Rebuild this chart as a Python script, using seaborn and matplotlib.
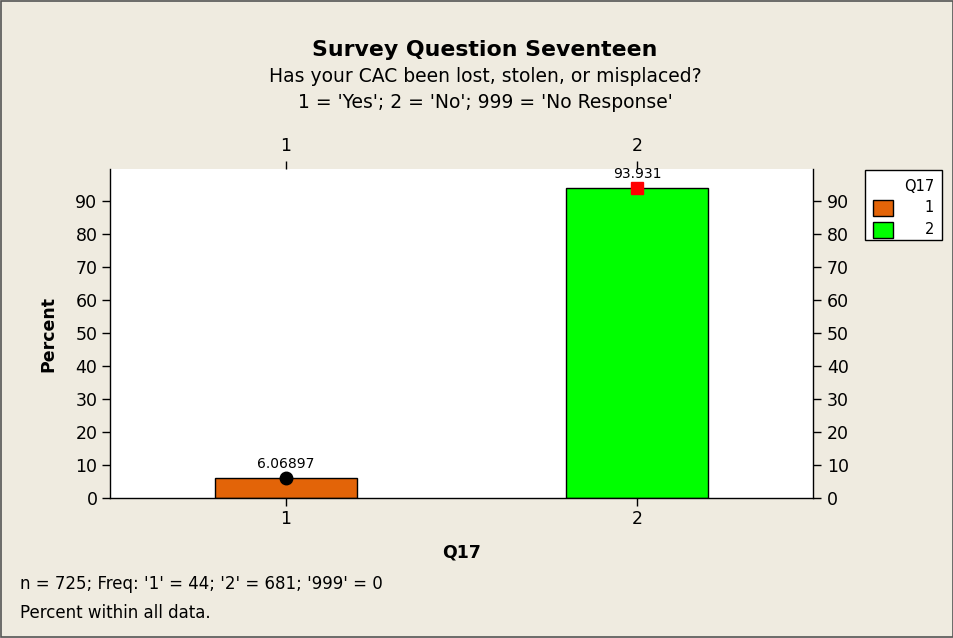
import matplotlib
matplotlib.use("Agg")
import matplotlib.pyplot as plt
import seaborn as sns
import pandas as pd
from matplotlib.patches import Rectangle

categories = ["1", "2"]
percents = [6.06897, 93.931]
bar_colors = ["#E36408", "#00FF00"]
marker_colors = ["black", "red"]
marker_shapes = ["o", "s"]
value_labels = ["6.06897", "93.931"]
yticks = [0, 10, 20, 30, 40, 50, 60, 70, 80, 90]

sns.set_theme(style="white")
plt.rcParams['font.family'] = ['DejaVu Sans']
plt.rcParams['text.color'] = 'black'
plt.rcParams['axes.labelcolor'] = 'black'
plt.rcParams['xtick.color'] = 'black'
plt.rcParams['ytick.color'] = 'black'
BG = "#EFEBE0"
W, H = 954, 638

fig = plt.figure(figsize=(9.54, 6.38), dpi=100, facecolor=BG)
L, R, T, B = 110, 813, 169, 498
ax = fig.add_axes([L/W, 1-B/H, (R-L)/W, (B-T)/H])
ax.set_facecolor("white")

df = pd.DataFrame({"Q17": categories, "Percent": percents})
sns.barplot(data=df, x="Q17", y="Percent", hue="Q17", palette=bar_colors,
            width=0.403, edgecolor="black", linewidth=1.0, dodge=False,
            legend=False, ax=ax, saturation=1)

for i, (v, mc, ms, lab) in enumerate(zip(percents, marker_colors, marker_shapes, value_labels)):
    ax.plot(i, v, marker=ms, color=mc, markersize=9 if ms == "o" else 8,
            linestyle="none", zorder=5, clip_on=False)
    ax.annotate(lab, (i, v), xytext=(0, 5), textcoords="offset points",
                ha="center", va="bottom", fontsize=10, color="black", zorder=6)

ax.set_xlim(-0.5, 1.5)
ax.set_ylim(0, 99.6)
ax.set_yticks(yticks)
ax.set_yticklabels([str(t) for t in yticks])
for name, s in ax.spines.items():
    s.set_visible(name in ("bottom", "left", "right"))
    s.set_color("black")
    s.set_linewidth(1.0)
ax.tick_params(axis="both", direction="out", length=6, width=1, color="black",
               labelsize=12.5, labelcolor="black", bottom=True, left=True, pad=3)
ax.set_xlabel("Q17", fontsize=12.5, fontweight="bold")
ax.set_ylabel("Percent", fontsize=12.5, fontweight="bold")
ax.xaxis.set_label_coords(0.5, (B-543)/(B-T))
ax.xaxis.label.set_va("top")
ax.yaxis.set_label_coords((57-L)/(R-L), 0.5)

# right axis
axr = ax.twinx()
axr.set_ylim(ax.get_ylim())
axr.set_yticks(yticks)
axr.set_yticklabels([str(t) for t in yticks])
for s in axr.spines.values():
    s.set_visible(False)
axr.tick_params(axis="y", direction="out", length=6, width=1, color="black",
                labelsize=12.5, right=True, pad=4)
axr.grid(False)

# top axis
axt = ax.twiny()
axt.set_xlim(ax.get_xlim())
axt.set_xticks([0, 1])
axt.set_xticklabels(categories)
for s in axt.spines.values():
    s.set_visible(False)
axt.tick_params(axis="x", direction="out", length=6, width=1, color="black",
                labelsize=12.5, top=True, pad=4)
axt.grid(False)
ax.grid(False)

# titles
cx = 485 / W
fig.text(cx, 1-50/H, "Survey Question Seventeen", ha="center", va="center",
         fontsize=15.8, fontweight="bold")
fig.text(cx, 1-77/H, "Has your CAC been lost, stolen, or misplaced?", ha="center",
         va="center", fontsize=13.5)
fig.text(cx, 1-102/H, "1 = 'Yes'; 2 = 'No'; 999 = 'No Response'", ha="center",
         va="center", fontsize=13.5)

# footnotes
fig.text(20/W, 1-584/H, "n = 725; Freq: '1' = 44; '2' = 681; '999' = 0", ha="left",
         va="center", fontsize=12)
fig.text(20/W, 1-613/H, "Percent within all data.", ha="left", va="center", fontsize=12)

# legend box
fig.patches.append(Rectangle((865/W, 1-240/H), 77/W, 70/H, transform=fig.transFigure,
                             facecolor="white", edgecolor="black", linewidth=1.0, zorder=1))
fig.text(934/W, 1-186/H, "Q17", ha="right", va="center", fontsize=10.5)
for i, (c, lab) in enumerate(zip(bar_colors, categories)):
    yc = 208 + 22 * i
    fig.patches.append(Rectangle((873/W, 1-(yc+8)/H), 20/W, 16/H,
                                 transform=fig.transFigure, facecolor=c,
                                 edgecolor="black", linewidth=1.0, zorder=2))
    fig.text(934/W, 1-yc/H, lab, ha="right", va="center", fontsize=10.5)

# figure border
fig.patches.append(Rectangle((0.001, 0.001), 0.998, 0.997, transform=fig.transFigure,
                             facecolor="none", edgecolor="#555555", linewidth=1.2, zorder=0))

fig.savefig("out.png", dpi=100, facecolor=BG)
